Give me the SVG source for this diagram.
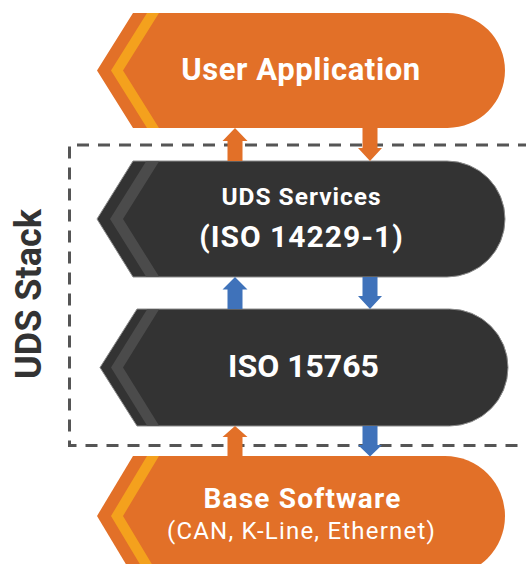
<svg xmlns="http://www.w3.org/2000/svg" width="526" height="564" viewBox="0 0 526 564">
<style>
.org{fill:#E27028}
.yel{fill:#F4A11D}
.drk{fill:#333333;stroke:#8c8c8c;stroke-width:1}
.str{fill:#4B4B4B}
.t{font-family:Roboto,"Liberation Sans",sans-serif;fill:#ffffff;text-anchor:middle}
.b{font-weight:bold}
.ao{fill:#E27028}
.ab{fill:#3F72BA}
.dash{fill:none;stroke:#555555;stroke-width:3;stroke-dasharray:12 9}
</style>
<rect width="526" height="564" fill="#ffffff"/>
<g id="stack-frame">
<path class="dash" d="M530,145 H69.5 V445.5 H530"/>
<text x="41" y="294" transform="rotate(-90 41 294)" style="font-family:Roboto,'Liberation Sans',sans-serif;font-weight:bold;font-size:36px;fill:#333333;text-anchor:middle">UDS Stack</text>
</g>
<g id="user-application">
<path class="org" d="M133,13 H447.5 A57.5,57.5 0 0 1 447.5,128 H133 L97,70.5 Z"/>
<path class="yel" d="M147,13 H159 L123,70.5 L159,128 H147 L111,70.5 Z"/>
<text class="t b" x="301" y="79.5" font-size="31" letter-spacing="0.6">User Application</text>
</g>
<g id="uds-services">
<path class="drk" d="M133,161 H447 A58,58 0 0 1 447,277 H133 L97,219 Z"/>
<path class="str" d="M146,161.5 H159 L123,219 L159,276.5 H146 L110,219 Z"/>
<text class="t b" x="301.5" y="205" font-size="24.5" letter-spacing="1">UDS Services</text>
<text class="t b" x="301.5" y="246.5" font-size="30" letter-spacing="1">(ISO 14229-1)</text>
</g>
<g id="iso-15765">
<path class="drk" d="M137,309 H449.5 A58.5,58.5 0 0 1 449.5,426 H137 L100,367.5 Z"/>
<path class="str" d="M147,309.5 H159 L123,367.5 L159,425.5 H147 L111,367.5 Z"/>
<text class="t b" x="303.5" y="377" font-size="32">ISO 15765</text>
</g>
<g id="base-software">
<path class="org" d="M133,456 H445 A60,60 0 0 1 445,576 H133 L97,516 Z"/>
<path class="yel" d="M147,456 H159 L123,516 L159,576 H147 L111,516 Z"/>
<text class="t b" x="302.5" y="507.5" font-size="28" letter-spacing="1.2">Base Software</text>
<text class="t" x="301.5" y="538.5" font-size="24" letter-spacing="1.2">(CAN, K-Line, Ethernet)</text>
</g>
<g id="connectors">
<polygon class="ao" points="235,128 247.5,141 242.5,141 242.5,161 227.5,161 227.5,141 222.5,141"/>
<polygon class="ao" points="362.5,128 377.5,128 377.5,148 382,148 370,161 358,148 362.5,148"/>
<polygon class="ab" points="235,277 247.5,289.5 242.5,289.5 242.5,309 227.5,309 227.5,289.5 222.5,289.5"/>
<polygon class="ab" points="362.5,277 377.5,277 377.5,296 382,296 370,309 358,296 362.5,296"/>
<polygon class="ao" points="235,426 247.5,437 242.5,437 242.5,456 227.5,456 227.5,437 222.5,437"/>
<polygon class="ab" points="362.5,426 377.5,426 377.5,445 382,445 370,456.5 358,445 362.5,445"/>
</g>
</svg>
